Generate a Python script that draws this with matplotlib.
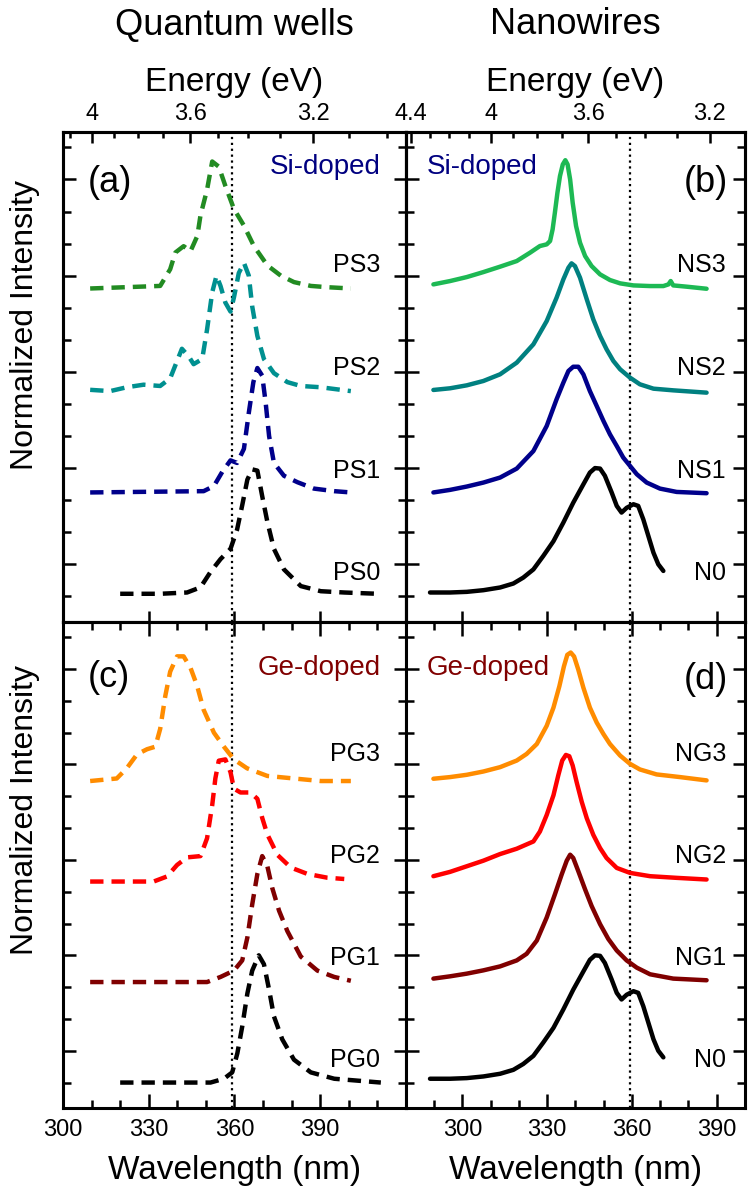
import matplotlib
matplotlib.use('Agg')
import matplotlib.pyplot as plt

plt.rcParams['font.family'] = ['Liberation Sans', 'DejaVu Sans']

# ---- data ----
OFFSETS = [0.0, 0.8, 1.6, 2.4]
DOTTED_WL = 359.3
EV_NM = 1240.0

# (a) quantum wells, Si-doped
PS0_WL = [320, 334, 343.4, 348.1, 351.6, 355.1, 358.6, 360.9, 362.7, 364.5, 366.2, 368.0, 369.7, 371.5, 373.8, 377.3, 383.2, 390.2, 398.4, 410.1]
PS0_I = [0.02, 0.02, 0.03, 0.07, 0.19, 0.29, 0.37, 0.52, 0.71, 0.91, 0.99, 0.98, 0.78, 0.58, 0.37, 0.21, 0.08, 0.04, 0.03, 0.02]
PS1_WL = [309.5, 349.2, 352.8, 355.7, 358.6, 360.9, 363.3, 365.0, 366.6, 368.0, 369.7, 370.9, 372.1, 373.8, 377.3, 382.0, 387.8, 394.9, 400.7]
PS1_I = [0.01, 0.02, 0.06, 0.17, 0.26, 0.24, 0.35, 0.63, 0.87, 0.98, 0.92, 0.71, 0.45, 0.24, 0.14, 0.09, 0.04, 0.02, 0.01]
PS2_WL = [309.5, 316.5, 322.3, 328.2, 334.0, 337.5, 341.6, 344.0, 345.7, 348.7, 350.4, 352.2, 353.7, 355.1, 356.8, 358.6, 359.8, 361.5, 363.3, 365.0, 366.2, 368.0, 370.3, 373.8, 378.5, 383.2, 390.2, 400.7]
PS2_I = [0.01, 0.0, 0.03, 0.05, 0.04, 0.10, 0.33, 0.27, 0.21, 0.25, 0.48, 0.77, 0.90, 0.82, 0.69, 0.62, 0.73, 0.92, 1.0, 0.90, 0.66, 0.43, 0.25, 0.14, 0.07, 0.04, 0.03, 0.0]
PS3_WL = [309.5, 334.0, 337.5, 339.3, 342.2, 344.6, 347.0, 348.1, 350.4, 352.2, 354.5, 356.8, 359.8, 363.3, 366.8, 371.5, 376.2, 380.8, 386.7, 392.5, 400.7]
PS3_I = [0.0, 0.02, 0.15, 0.28, 0.33, 0.29, 0.41, 0.57, 0.77, 0.99, 0.95, 0.80, 0.62, 0.49, 0.33, 0.18, 0.10, 0.05, 0.02, 0.01, 0.0]

# (c) quantum wells, Ge-doped
PG0_WL = [320, 351.6, 356.3, 359.2, 361.0, 362.7, 364.5, 366.2, 368.5, 370.3, 372.1, 373.8, 376.7, 380.8, 386.7, 394.9, 411.2]
PG0_I = [0.0, 0.0, 0.03, 0.08, 0.23, 0.44, 0.70, 0.88, 1.0, 0.93, 0.73, 0.52, 0.34, 0.18, 0.08, 0.03, 0.0]
PG1_WL = [309.5, 350.4, 355.1, 359.8, 362.7, 364.5, 366.2, 368.0, 369.7, 371.5, 373.2, 375.6, 378.5, 383.2, 389.0, 394.9, 400.7]
PG1_I = [-0.01, -0.01, 0.03, 0.08, 0.16, 0.34, 0.60, 0.84, 0.98, 0.90, 0.73, 0.55, 0.39, 0.19, 0.08, 0.03, 0.0]
PG2_WL = [309.5, 322.3, 331.7, 336.4, 339.9, 343.4, 348.1, 350.4, 352.2, 353.3, 354.5, 356.8, 358.6, 359.8, 362.1, 365.6, 368.0, 369.7, 371.5, 375.0, 379.7, 385.5, 392.5, 398.4]
PG2_I = [-0.02, -0.02, -0.02, 0.02, 0.11, 0.17, 0.18, 0.32, 0.58, 0.79, 0.93, 0.94, 0.84, 0.71, 0.68, 0.68, 0.63, 0.48, 0.35, 0.19, 0.09, 0.04, 0.01, 0.0]
PG3_WL = [309.5, 318.8, 322.3, 325.9, 329.4, 332.3, 334.0, 335.8, 337.5, 339.9, 342.2, 344.6, 346.9, 349.2, 352.8, 356.3, 359.8, 364.4, 371.5, 380.8, 390.2, 400.7]
PG3_I = [-0.03, -0.01, 0.07, 0.18, 0.22, 0.24, 0.38, 0.64, 0.83, 0.95, 0.95, 0.86, 0.72, 0.53, 0.35, 0.24, 0.14, 0.07, 0.01, -0.01, -0.03, -0.03]

# nanowires (N0 is shared by (b) and (d))
N0_WL = [288.5, 295.6, 301.5, 307.4, 313.3, 318.0, 321.5, 325.1, 328.6, 332.2, 335.7, 339.2, 342.8, 345.1, 346.9, 348.7, 350.4, 352.8, 354.6, 356.3, 358.1, 360.5, 362.2, 364.0, 365.8, 367.6, 369.3, 371.1]
N0_I = [0.03, 0.03, 0.035, 0.048, 0.069, 0.10, 0.146, 0.21, 0.315, 0.43, 0.575, 0.73, 0.874, 0.965, 1.0, 0.996, 0.94, 0.81, 0.705, 0.653, 0.69, 0.718, 0.705, 0.60, 0.47, 0.34, 0.25, 0.198]
NS1_WL = [289.7, 295.6, 301.5, 307.4, 313.3, 319.2, 325.1, 329.8, 333.3, 335.7, 337.5, 339.2, 341.0, 342.8, 345.1, 347.5, 349.9, 352.2, 354.6, 356.9, 359.3, 361.7, 365.2, 369.9, 375.8, 386.4]
NS1_I = [0.01, 0.03, 0.056, 0.087, 0.126, 0.196, 0.333, 0.528, 0.736, 0.866, 0.957, 0.99, 0.99, 0.93, 0.80, 0.684, 0.567, 0.463, 0.372, 0.282, 0.217, 0.152, 0.087, 0.04, 0.014, 0.004]
NS2_WL = [289.7, 295.6, 301.5, 307.4, 313.3, 319.2, 325.1, 329.8, 333.3, 335.7, 337.5, 338.6, 339.8, 341.6, 344.0, 346.3, 348.7, 351.0, 353.4, 355.8, 359.3, 362.8, 367.6, 374.6, 386.4]
NS2_I = [0.009, 0.022, 0.045, 0.079, 0.131, 0.222, 0.365, 0.546, 0.728, 0.871, 0.962, 0.996, 0.975, 0.884, 0.715, 0.559, 0.43, 0.326, 0.235, 0.17, 0.105, 0.053, 0.019, 0.006, -0.012]
NS3_WL = [289.7, 295.6, 301.5, 307.4, 313.3, 319.2, 323.9, 327.4, 329.8, 331.0, 331.9, 332.7, 333.6, 334.5, 335.5, 336.4, 337.2, 338.1, 339.0, 340.2, 341.6, 343.4, 345.7, 348.7, 352.2, 355.8, 360.5, 366.4, 371.1, 372.9, 373.7, 374.6, 379.4, 386.4]
NS3_I = [0.032, 0.058, 0.089, 0.128, 0.17, 0.214, 0.279, 0.331, 0.344, 0.37, 0.461, 0.591, 0.746, 0.876, 0.967, 1.0, 0.967, 0.85, 0.669, 0.487, 0.357, 0.253, 0.175, 0.11, 0.066, 0.04, 0.024, 0.019, 0.019, 0.032, 0.058, 0.024, 0.014, -0.002]
NG1_WL = [289.7, 295.6, 301.5, 307.4, 313.3, 319.2, 322.7, 326.3, 329.8, 332.7, 335.1, 336.9, 338.1, 339.2, 341.0, 343.4, 345.7, 348.7, 351.6, 354.6, 358.1, 361.7, 366.4, 374.6, 386.4]
NG1_I = [0.017, 0.035, 0.056, 0.082, 0.113, 0.16, 0.212, 0.316, 0.497, 0.679, 0.835, 0.944, 0.991, 0.965, 0.861, 0.718, 0.588, 0.445, 0.329, 0.238, 0.16, 0.103, 0.051, 0.017, 0.004]
NG2_WL = [289.7, 295.6, 301.5, 307.4, 313.3, 319.2, 325.1, 327.4, 329.8, 332.2, 333.9, 335.3, 336.6, 337.8, 339.0, 340.4, 342.2, 344.0, 346.3, 348.7, 351.0, 354.6, 359.3, 366.4, 375.8, 386.4]
NG2_I = [0.022, 0.056, 0.10, 0.144, 0.196, 0.238, 0.295, 0.373, 0.503, 0.658, 0.814, 0.931, 0.975, 0.965, 0.892, 0.762, 0.607, 0.477, 0.347, 0.243, 0.165, 0.087, 0.048, 0.022, 0.009, -0.004]
NG3_WL = [289.7, 295.6, 301.5, 307.4, 313.3, 319.2, 322.7, 326.3, 329.8, 332.2, 334.3, 335.9, 337.1, 338.3, 339.5, 341.0, 342.8, 345.1, 347.5, 349.9, 352.2, 355.8, 359.3, 362.8, 368.7, 377.0, 386.4]
NG3_I = [-0.012, 0.001, 0.019, 0.045, 0.079, 0.131, 0.183, 0.261, 0.404, 0.547, 0.716, 0.871, 0.962, 0.98, 0.949, 0.845, 0.703, 0.547, 0.43, 0.339, 0.261, 0.17, 0.105, 0.061, 0.022, 0.001, -0.025]

QW_SI = [(PS0_WL, PS0_I), (PS1_WL, PS1_I), (PS2_WL, PS2_I), (PS3_WL, PS3_I)]
QW_GE = [(PG0_WL, PG0_I), (PG1_WL, PG1_I), (PG2_WL, PG2_I), (PG3_WL, PG3_I)]
NW_SI = [(N0_WL, N0_I), (NS1_WL, NS1_I), (NS2_WL, NS2_I), (NS3_WL, NS3_I)]
NW_GE = [(N0_WL, N0_I), (NG1_WL, NG1_I), (NG2_WL, NG2_I), (NG3_WL, NG3_I)]

QW_SI_NAMES = ['PS0', 'PS1', 'PS2', 'PS3']
QW_GE_NAMES = ['PG0', 'PG1', 'PG2', 'PG3']
NW_SI_NAMES = ['N0', 'NS1', 'NS2', 'NS3']
NW_GE_NAMES = ['N0', 'NG1', 'NG2', 'NG3']

QW_SI_COLORS = ['black', '#00008b', '#009090', '#228b22']
NW_SI_COLORS = ['black', '#00008b', '#008080', '#1db954']
GE_COLORS = ['black', '#800000', '#ff0000', '#ff8c00']

ENERGY_MAJOR = [4.4, 4.0, 3.6, 3.2]
ENERGY_MINOR = [4.5, 4.3, 4.2, 4.1, 3.9, 3.8, 3.7, 3.5, 3.4, 3.3, 3.1, 3.0, 2.9]

# ---- layout ----
FIG_W, FIG_H = 748, 1197
X_L, X_M, X_R = 63, 406, 745
Y_T, Y_M, Y_B = 132, 622, 1108
YLIM = (-0.2, 3.62)
Y_MAJOR = [0.25, 1.0, 1.75, 2.5, 3.25]
Y_MINOR = [0.0, 0.5, 0.75, 1.25, 1.5, 2.0, 2.25, 2.75, 3.0, 3.5]
SPINE_W = 2.2
LINE_W = 3.2
DASH = (3.0, 1.8)
TICK_FS = 17


def rect(x0, x1, y0, y1):
    return [x0 / FIG_W, 1 - y1 / FIG_H, (x1 - x0) / FIG_W, (y1 - y0) / FIG_H]


def setup_panel(ax, xlim, xmajor, xminor, top_row):
    ax.set_xlim(xlim)
    ax.set_ylim(YLIM)
    for s in ax.spines.values():
        s.set_linewidth(SPINE_W)
    ax.set_xticks(xmajor)
    ax.set_xticks(xminor, minor=True)
    ax.set_yticks(Y_MAJOR)
    ax.set_yticks(Y_MINOR, minor=True)
    ax.tick_params(axis='y', which='both', direction='in', left=True, right=True,
                   labelleft=False, width=1.8)
    ax.tick_params(axis='y', which='major', length=9)
    ax.tick_params(axis='y', which='minor', length=6)
    ax.axvline(DOTTED_WL, color='black', ls=':', lw=1.6, zorder=1)

    if top_row:
        # energy axis on top
        ax2 = ax.twiny()
        ax2.set_xlim(xlim)
        emaj = [e for e in ENERGY_MAJOR if xlim[0] <= EV_NM / e <= xlim[1]]
        emin = [e for e in ENERGY_MINOR if xlim[0] <= EV_NM / e <= xlim[1]]
        ax2.set_xticks([EV_NM / e for e in emaj])
        ax2.set_xticklabels([f'{e:g}' for e in emaj])
        ax2.set_xticks([EV_NM / e for e in emin], minor=True)
        ax2.tick_params(axis='x', which='both', direction='in', width=1.8,
                        labelsize=TICK_FS, pad=5)
        ax2.tick_params(axis='x', which='major', length=8)
        ax2.tick_params(axis='x', which='minor', length=4.5)
        for s in ax2.spines.values():
            s.set_linewidth(SPINE_W)
        ax2.set_xlabel('Energy (eV)', fontsize=24)
        ax2.xaxis.set_label_coords(0.5, 1 + (Y_T - 82) / (Y_M - Y_T))
        ax2.xaxis.label.set_va('center')
        ax.tick_params(axis='x', which='major', direction='in', bottom=True, top=False,
                       labelbottom=False, length=8, width=1.8)
        ax.tick_params(axis='x', which='minor', bottom=False, top=False)
    else:
        ax.tick_params(axis='x', which='both', direction='in', bottom=True, top=True,
                       labelsize=TICK_FS, pad=8, width=1.8)
        ax.tick_params(axis='x', which='major', length=10)
        ax.tick_params(axis='x', which='minor', length=5.5)
        ax.set_xlabel('Wavelength (nm)', fontsize=24)
        ax.xaxis.set_label_coords(0.5, -(1170 - Y_B) / (Y_B - Y_M))
        ax.xaxis.label.set_va('center')


def draw_curves(ax, curves, colors, names, dashed, label_x, label_dy):
    for (wl, inten), off, col, name in zip(curves, OFFSETS, colors, names):
        y = [v + off for v in inten]
        if dashed:
            ax.plot(wl, y, color=col, lw=LINE_W, dashes=DASH, zorder=3)
        else:
            ax.plot(wl, y, color=col, lw=LINE_W, solid_capstyle='round',
                    solid_joinstyle='round', zorder=3)
        ax.text(label_x, off + label_dy, name, ha='right', va='center', fontsize=18)


fig = plt.figure(figsize=(FIG_W / 100, FIG_H / 100), dpi=100)

ax_a = fig.add_axes(rect(X_L, X_M, Y_T, Y_M))
ax_c = fig.add_axes(rect(X_L, X_M, Y_M, Y_B))
ax_b = fig.add_axes(rect(X_M, X_R, Y_T, Y_M))
ax_d = fig.add_axes(rect(X_M, X_R, Y_M, Y_B))

qw_lim, nw_lim = (300, 420), (280, 400)
qw_major, nw_major = [300, 330, 360, 390], [300, 330, 360, 390]
qw_minor = [310, 320, 340, 350, 370, 380, 400, 410]
nw_minor = [290, 310, 320, 340, 350, 370, 380]

setup_panel(ax_a, qw_lim, qw_major, qw_minor, True)
setup_panel(ax_c, qw_lim, qw_major, qw_minor, False)
setup_panel(ax_b, nw_lim, nw_major, nw_minor, True)
setup_panel(ax_d, nw_lim, nw_major, nw_minor, False)

draw_curves(ax_a, QW_SI, QW_SI_COLORS, QW_SI_NAMES, True, 411.0, 0.18)
draw_curves(ax_c, QW_GE, GE_COLORS, QW_GE_NAMES, True, 411.0, 0.18)
draw_curves(ax_b, NW_SI, NW_SI_COLORS, NW_SI_NAMES, False, 393.3, 0.18)
draw_curves(ax_d, NW_GE, GE_COLORS, NW_GE_NAMES, False, 393.3, 0.18)

# panel tags and doping labels
ax_a.text(308.8, 3.23, '(a)', ha='left', va='center', fontsize=26)
ax_a.text(411.2, 3.35, 'Si-doped', ha='right', va='center', fontsize=20, color='#000080')
ax_b.text(394.0, 3.23, '(b)', ha='right', va='center', fontsize=26)
ax_b.text(287.4, 3.35, 'Si-doped', ha='left', va='center', fontsize=20, color='#000080')
ax_c.text(308.8, 3.18, '(c)', ha='left', va='center', fontsize=26)
ax_c.text(411.2, 3.26, 'Ge-doped', ha='right', va='center', fontsize=20, color='#800000')
ax_d.text(394.0, 3.17, '(d)', ha='right', va='center', fontsize=26)
ax_d.text(287.4, 3.26, 'Ge-doped', ha='left', va='center', fontsize=20, color='#800000')

for ax, yc in [(ax_a, 325), (ax_c, 810)]:
    top = Y_T if ax is ax_a else Y_M
    bot = Y_M if ax is ax_a else Y_B
    ax.set_ylabel('Normalized Intensity', fontsize=23)
    ax.yaxis.set_label_coords(-(X_L - 25) / (X_M - X_L), (bot - yc) / (bot - top))
    ax.yaxis.label.set_va('center')

fig.text((X_L + X_M) / 2 / FIG_W, 1 - 25 / FIG_H, 'Quantum wells', ha='center', va='center', fontsize=26)
fig.text((X_M + X_R) / 2 / FIG_W, 1 - 25 / FIG_H, 'Nanowires', ha='center', va='center', fontsize=26)

fig.savefig('out.png', dpi=100)
